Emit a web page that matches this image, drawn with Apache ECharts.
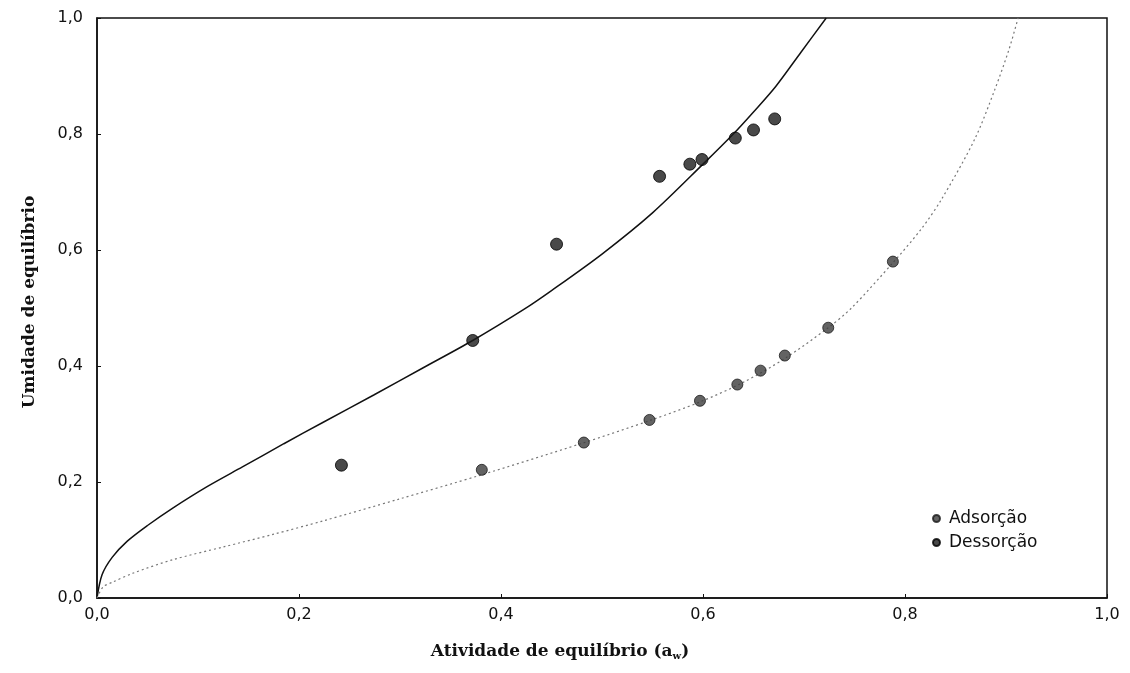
<!DOCTYPE html>
<html>
<head>
<meta charset="utf-8">
<script src="https://cdn.jsdelivr.net/npm/echarts@6/dist/echarts.min.js"></script>
<style>
  html, body { margin: 0; padding: 0; background: #fff; }
  #chart { width: 1130px; height: 673px; }
</style>
</head>
<body>
<div id="chart"></div>
<script>
// Tick labels (decimal comma)
const xTicks = ['0,0', '0,2', '0,4', '0,6', '0,8', '1,0'];
const yTicks = ['0,0', '0,2', '0,4', '0,6', '0,8', '1,0'];

// Experimental points [aw, moisture]
const adsorcao = [
  [0.381, 0.221], [0.482, 0.268], [0.547, 0.307], [0.597, 0.340], [0.634, 0.368],
  [0.657, 0.392], [0.681, 0.418], [0.724, 0.466], [0.788, 0.580]
];
const dessorcao = [
  [0.242, 0.229], [0.372, 0.444], [0.455, 0.610], [0.557, 0.727], [0.587, 0.748],
  [0.599, 0.756], [0.632, 0.793], [0.650, 0.807], [0.671, 0.826]
];

// Fitted isotherm curves, traced as points
const curvaAdsorcao = [
  [0, 0], [0.006, 0.019], [0.015, 0.027], [0.036, 0.043], [0.075, 0.066], [0.125, 0.088],
  [0.175, 0.110], [0.224, 0.133], [0.298, 0.170], [0.380, 0.212], [0.479, 0.266],
  [0.549, 0.307], [0.597, 0.338], [0.640, 0.372], [0.681, 0.413], [0.724, 0.466],
  [0.747, 0.500], [0.788, 0.578], [0.816, 0.636], [0.836, 0.687], [0.869, 0.791],
  [0.889, 0.877], [0.903, 0.946], [0.912, 1.0]
];
const curvaDessorcao = [
  [0, 0], [0.005, 0.040], [0.015, 0.070], [0.030, 0.098], [0.050, 0.125], [0.075, 0.155],
  [0.109, 0.192], [0.144, 0.226], [0.185, 0.266], [0.224, 0.303], [0.274, 0.350],
  [0.323, 0.397], [0.372, 0.444], [0.423, 0.498], [0.450, 0.530], [0.500, 0.593],
  [0.550, 0.664], [0.600, 0.748], [0.630, 0.800], [0.650, 0.838], [0.672, 0.882],
  [0.697, 0.941], [0.722, 1.0]
];

const chart = echarts.init(document.getElementById('chart'));
const tickFont = { fontFamily: 'DejaVu Sans, sans-serif', fontSize: 16, color: '#111' };
const titleFont = 'DejaVu Serif, serif';

chart.setOption({
  animation: false,
  backgroundColor: '#fff',
  grid: { left: 97, right: 23, top: 18, bottom: 75, show: true, borderColor: '#111', borderWidth: 1.5 },
  xAxis: {
    type: 'value', min: 0, max: 1, interval: 0.2,
    axisLine: { show: true, lineStyle: { color: '#111', width: 1.5 } },
    axisTick: { show: true, inside: true, length: 4, lineStyle: { color: '#111' } },
    splitLine: { show: false },
    axisLabel: Object.assign({ margin: 9, formatter: (v) => xTicks[Math.round(v / 0.2)] }, tickFont)
  },
  yAxis: {
    type: 'value', min: 0, max: 1, interval: 0.2,
    axisLine: { show: true, lineStyle: { color: '#111', width: 1.5 } },
    axisTick: { show: true, inside: true, length: 4, lineStyle: { color: '#111' } },
    splitLine: { show: false },
    axisLabel: Object.assign({ margin: 14, formatter: (v) => yTicks[Math.round(v / 0.2)] }, tickFont)
  },
  legend: {
    data: ['Adsorção', 'Dessorção'],
    orient: 'vertical',
    left: 927, top: 505,
    itemWidth: 7, itemHeight: 7, itemGap: 7,
    icon: 'circle',
    textStyle: { fontFamily: 'DejaVu Sans, sans-serif', fontSize: 17, color: '#111', padding: [0, 0, 0, 4] }
  },
  graphic: [
    {
      type: 'text', x: 560, y: 652,
      style: {
        text: '{t|Atividade de equilíbrio (a}{s|w}{t|)}',
        textAlign: 'center', textVerticalAlign: 'middle',
        rich: {
          t: { fontFamily: titleFont, fontWeight: 'bold', fontSize: 17, fill: '#111' },
          s: { fontFamily: titleFont, fontWeight: 'bold', fontSize: 10, fill: '#111', padding: [9, 0, 0, 0] }
        }
      }
    },
    {
      type: 'text', x: 30, y: 302, rotation: Math.PI / 2,
      style: {
        text: 'Umidade de equilíbrio',
        fontFamily: titleFont, fontWeight: 'bold', fontSize: 17,
        fill: '#111', textAlign: 'center', textVerticalAlign: 'middle'
      }
    }
  ],
  series: [
    {
      name: 'curva-dessorcao', type: 'line', data: curvaDessorcao, smooth: 0.3,
      showSymbol: false, silent: true, z: 2,
      lineStyle: { color: '#111', width: 1.5 }
    },
    {
      name: 'curva-adsorcao', type: 'line', data: curvaAdsorcao, smooth: 0.3,
      showSymbol: false, silent: true, z: 2,
      lineStyle: { color: '#777', width: 1.2, type: [2, 3] }
    },
    {
      name: 'Adsorção', type: 'scatter', data: adsorcao, symbol: 'circle', symbolSize: 11, z: 3,
      itemStyle: { color: '#3c3c3c', borderColor: '#1a1a1a', borderWidth: 1 }
    },
    {
      name: 'Dessorção', type: 'scatter', data: dessorcao, symbol: 'circle', symbolSize: 12, z: 3,
      itemStyle: { color: '#1c1c1c', borderColor: '#000', borderWidth: 1 }
    }
  ]
});
</script>
</body>
</html>
